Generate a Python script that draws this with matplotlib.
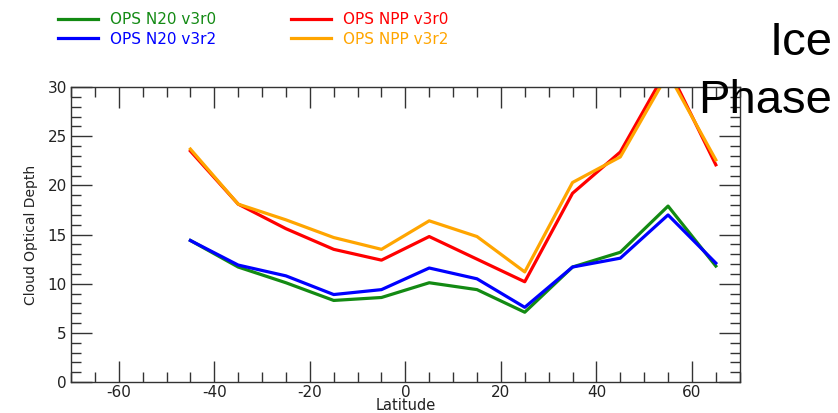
import matplotlib
matplotlib.use("Agg")
import matplotlib.pyplot as plt
from matplotlib.ticker import MultipleLocator

plt.rcParams["axes.unicode_minus"] = False

# Cloud optical depth of ice-phase clouds by latitude bin
latitude = [-45, -35, -25, -15, -5, 5, 15, 25, 35, 45, 55, 65]
n20_v3r0 = [14.4, 11.7, 10.1, 8.3, 8.6, 10.1, 9.4, 7.1, 11.7, 13.2, 17.9, 11.8]
n20_v3r2 = [14.4, 11.9, 10.8, 8.9, 9.4, 11.6, 10.5, 7.6, 11.7, 12.6, 17.0, 12.1]
npp_v3r0 = [23.5, 18.1, 15.6, 13.5, 12.4, 14.8, 12.5, 10.2, 19.2, 23.4, 32.0, 22.1]
npp_v3r2 = [23.7, 18.1, 16.5, 14.7, 13.5, 16.4, 14.8, 11.2, 20.3, 22.9, 31.4, 22.6]

series = [
    ("OPS N20 v3r0", n20_v3r0, "#138a13"),
    ("OPS N20 v3r2", n20_v3r2, "#0000ff"),
    ("OPS NPP v3r0", npp_v3r0, "#ff0000"),
    ("OPS NPP v3r2", npp_v3r2, "#ffa500"),
]

fig = plt.figure(figsize=(8.38, 4.13), dpi=100)
ax = fig.add_axes([0.0847, 0.075, 0.798, 0.714])

handles = []
for label, vals, color in series:
    h, = ax.plot(latitude, vals, color=color, lw=2.3, label=label)
    handles.append(h)

ax.set_xlim(-70, 70)
ax.set_ylim(0, 30)
ax.xaxis.set_major_locator(MultipleLocator(20))
ax.xaxis.set_minor_locator(MultipleLocator(5))
ax.yaxis.set_major_locator(MultipleLocator(5))
ax.yaxis.set_minor_locator(MultipleLocator(1))
ax.tick_params(which="both", direction="in", top=True, right=True,
               color="#333333", width=1.0, labelsize=11, labelcolor="#222222")
ax.tick_params(which="major", length=15)
ax.tick_params(which="minor", length=7)
ax.tick_params(axis="x", which="major", pad=2)
ax.tick_params(axis="y", which="major", pad=3)
for sp in ax.spines.values():
    sp.set_color("#333333")
    sp.set_linewidth(1.0)

ax.set_xlabel("Latitude", fontsize=10.5, color="#222222", labelpad=-1)
ax.set_ylabel("Cloud Optical Depth", fontsize=10, color="#222222", labelpad=7)

leg = fig.legend(handles=handles, loc="upper left", bbox_to_anchor=(0.055, 1.0),
                 ncol=2, frameon=False, fontsize=11, handlelength=2.6,
                 columnspacing=4.9, labelspacing=0.3, handletextpad=0.8,
                 borderpad=0.3)
for text, h in zip(leg.get_texts(), handles):
    text.set_color(h.get_color())

fig.text(0.993, 0.867, "Ice", fontsize=34, family="Liberation Sans",
         ha="right", va="baseline", color="black")
fig.text(0.993, 0.726, "Phase", fontsize=34, family="Liberation Sans",
         ha="right", va="baseline", color="black")

fig.savefig("out.png", dpi=100)
